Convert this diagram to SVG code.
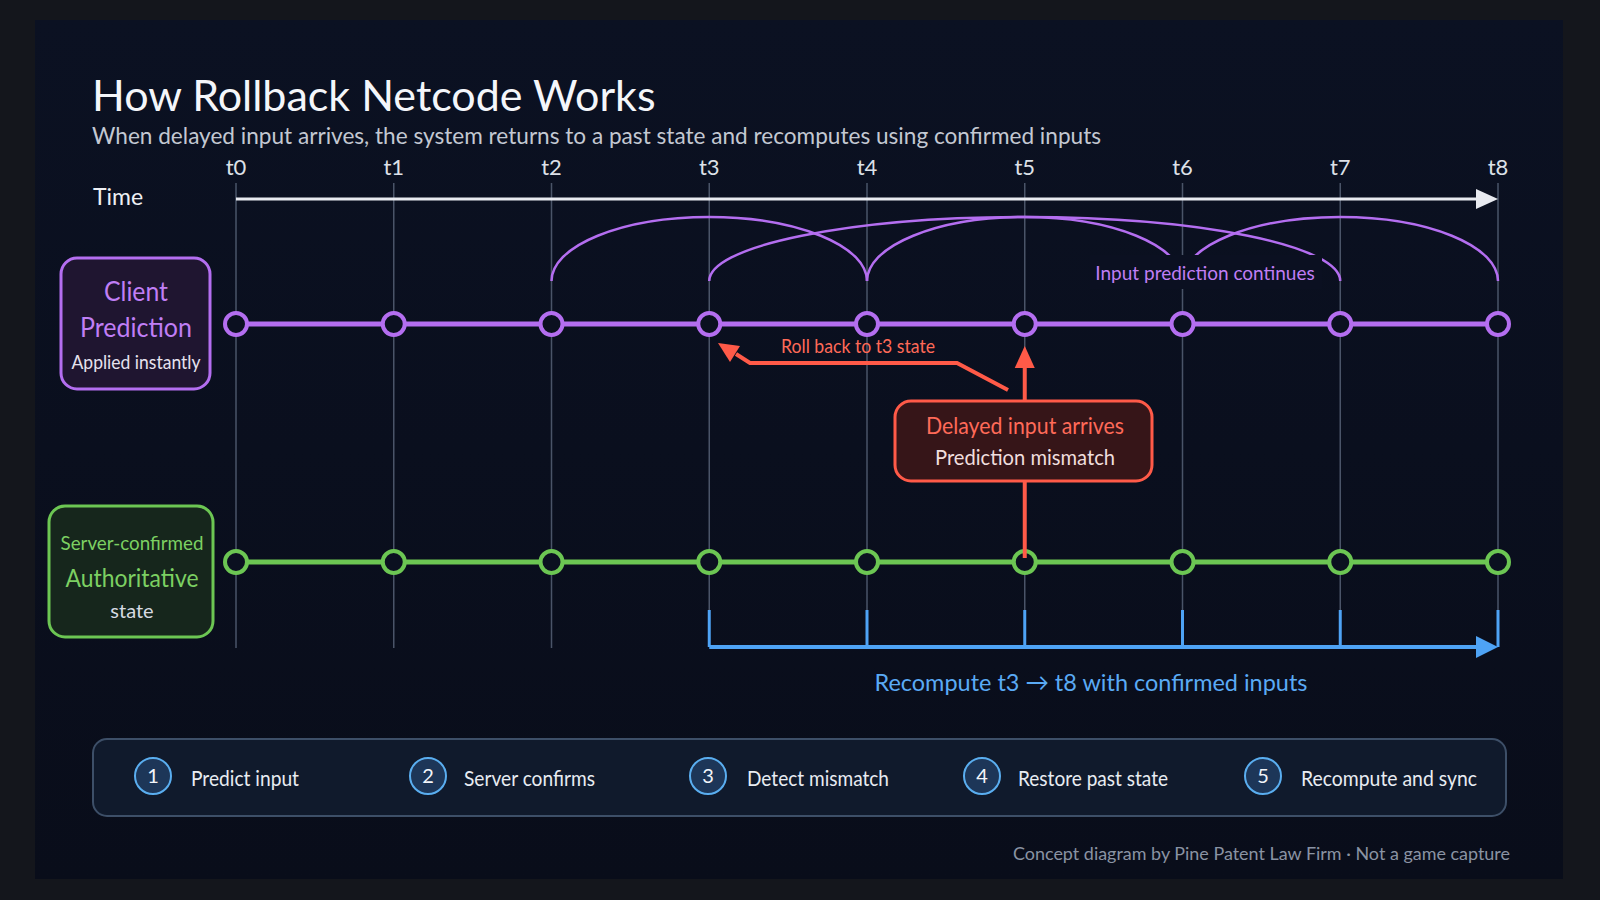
<svg xmlns="http://www.w3.org/2000/svg" width="1600" height="900" viewBox="0 0 1600 900">
  <defs>
    <linearGradient id="panelGrad" x1="0" y1="0" x2="0" y2="1">
      <stop offset="0" stop-color="#0b1122"/>
      <stop offset="1" stop-color="#090d1a"/>
    </linearGradient>
    <style>
      text { font-family: Lato, "Noto Sans", "Liberation Sans", sans-serif; }
      .grid { stroke: #4a5468; stroke-width: 1.5; }
      .tlabel { fill: #dde1e8; font-size: 22px; text-anchor: middle; }
      .pnode { fill: #0b1020; stroke: #b46ef0; stroke-width: 4; }
      .gnode { fill: #0b1020; stroke: #6cc653; stroke-width: 4; }
      .arc { fill: none; stroke: #b46ef0; stroke-width: 2.5; }
      .red { stroke: #ff5a48; fill: none; stroke-width: 4; }
      .redfill { fill: #ff5a48; }
      .blue { stroke: #4ea3f5; fill: none; }
      .stepc { fill: #1d3658; stroke: #5aaef0; stroke-width: 2; }
      .stepn { fill: #f2f5fa; font-size: 20px; text-anchor: middle; }
      .stepl { fill: #e8ecf2; font-size: 21px; }
    </style>
  </defs>

  <rect x="0" y="0" width="1600" height="900" fill="#14161c"/>
  <rect x="35" y="20" width="1528" height="859" fill="url(#panelGrad)"/>

  <g id="title">
    <text x="92" y="111" font-size="43" fill="#f4f6fa">How Rollback Netcode Works</text>
    <text x="92" y="144" font-size="22.6" fill="#c3c8d2">When delayed input arrives, the system returns to a past state and recomputes using confirmed inputs</text>
  </g>

  <g id="time-axis">
    <text x="93" y="205" font-size="23" fill="#eef0f4">Time</text>
    <text class="tlabel" x="236" y="175">t0</text>
    <text class="tlabel" x="393.75" y="175">t1</text>
    <text class="tlabel" x="551.5" y="175">t2</text>
    <text class="tlabel" x="709.25" y="175">t3</text>
    <text class="tlabel" x="867" y="175">t4</text>
    <text class="tlabel" x="1024.75" y="175">t5</text>
    <text class="tlabel" x="1182.5" y="175">t6</text>
    <text class="tlabel" x="1340.25" y="175">t7</text>
    <text class="tlabel" x="1498" y="175">t8</text>
  </g>

  <g id="grid">
    <line class="grid" x1="236" y1="183" x2="236" y2="648"/>
    <line class="grid" x1="393.75" y1="183" x2="393.75" y2="648"/>
    <line class="grid" x1="551.5" y1="183" x2="551.5" y2="648"/>
    <line class="grid" x1="709.25" y1="183" x2="709.25" y2="610"/>
    <line class="grid" x1="867" y1="183" x2="867" y2="610"/>
    <line class="grid" x1="1024.75" y1="183" x2="1024.75" y2="610"/>
    <line class="grid" x1="1182.5" y1="183" x2="1182.5" y2="610"/>
    <line class="grid" x1="1340.25" y1="183" x2="1340.25" y2="610"/>
    <line class="grid" x1="1498" y1="183" x2="1498" y2="610"/>
  </g>

  <g id="connectors">
    <line x1="236" y1="199" x2="1480" y2="199" stroke="#e8eaf0" stroke-width="3"/>
    <polygon points="1476,189 1498,199 1476,209" fill="#e8eaf0"/>

    <path class="arc" d="M551.5,281 A157.75,64 0 0 1 867,281"/>
    <path class="arc" d="M709.25,281 A315.5,64 0 0 1 1340.25,281"/>
    <path class="arc" d="M867,281 A157.75,64 0 0 1 1182.5,281"/>
    <path class="arc" d="M1182.5,281 A157.75,64 0 0 1 1498,281"/>

    <line x1="236" y1="324" x2="1498" y2="324" stroke="#b46ef0" stroke-width="5"/>
    <line x1="236" y1="562" x2="1498" y2="562" stroke="#6cc653" stroke-width="5"/>

    <polyline class="red" points="1008,390 957,363 750,363 736,354"/>
    <polygon class="redfill" points="718,343 740,346 730,362"/>
    <line class="red" x1="1024.75" y1="401" x2="1024.75" y2="365"/>
    <polygon class="redfill" points="1024.75,346 1014.75,368 1034.75,368"/>

    <line class="blue" stroke-width="4" x1="709.25" y1="647" x2="1478" y2="647"/>
    <polygon points="1476,636 1498,647 1476,658" fill="#4ea3f5"/>
    <line class="blue" stroke-width="3" x1="709.25" y1="610" x2="709.25" y2="647"/>
    <line class="blue" stroke-width="3" x1="867" y1="610" x2="867" y2="647"/>
    <line class="blue" stroke-width="3" x1="1024.75" y1="610" x2="1024.75" y2="647"/>
    <line class="blue" stroke-width="3" x1="1182.5" y1="610" x2="1182.5" y2="647"/>
    <line class="blue" stroke-width="3" x1="1340.25" y1="610" x2="1340.25" y2="647"/>
    <line class="blue" stroke-width="3" x1="1498" y1="610" x2="1498" y2="647"/>
  </g>

  <g id="prediction-label">
    <rect x="1090" y="255" width="232" height="34" fill="#0b1021"/>
    <text x="1205" y="280" font-size="19" fill="#c07ef5" text-anchor="middle">Input prediction continues</text>
  </g>

  <g id="client-nodes">
    <circle class="pnode" cx="236" cy="324" r="11"/>
    <circle class="pnode" cx="393.75" cy="324" r="11"/>
    <circle class="pnode" cx="551.5" cy="324" r="11"/>
    <circle class="pnode" cx="709.25" cy="324" r="11"/>
    <circle class="pnode" cx="867" cy="324" r="11"/>
    <circle class="pnode" cx="1024.75" cy="324" r="11"/>
    <circle class="pnode" cx="1182.5" cy="324" r="11"/>
    <circle class="pnode" cx="1340.25" cy="324" r="11"/>
    <circle class="pnode" cx="1498" cy="324" r="11"/>
  </g>

  <g id="server-nodes">
    <circle class="gnode" cx="236" cy="562" r="11"/>
    <circle class="gnode" cx="393.75" cy="562" r="11"/>
    <circle class="gnode" cx="551.5" cy="562" r="11"/>
    <circle class="gnode" cx="709.25" cy="562" r="11"/>
    <circle class="gnode" cx="867" cy="562" r="11"/>
    <circle class="gnode" cx="1024.75" cy="562" r="11"/>
    <circle class="gnode" cx="1182.5" cy="562" r="11"/>
    <circle class="gnode" cx="1340.25" cy="562" r="11"/>
    <circle class="gnode" cx="1498" cy="562" r="11"/>
  </g>

  <g id="delay-link">
    <line class="red" stroke-width="3" x1="1024.75" y1="481" x2="1024.75" y2="558"/>
  </g>

  <g id="client-box">
    <rect x="61" y="258" width="149" height="131" rx="16" fill="#1f1530" stroke="#b46ef0" stroke-width="3"/>
    <text x="136" y="301" font-size="26" fill="#c07ef5" text-anchor="middle" textLength="64" lengthAdjust="spacingAndGlyphs">Client</text>
    <text x="136" y="337" font-size="26" fill="#c07ef5" text-anchor="middle" textLength="112" lengthAdjust="spacingAndGlyphs">Prediction</text>
    <text x="136" y="369" font-size="19" fill="#e6e2ee" text-anchor="middle" textLength="129" lengthAdjust="spacingAndGlyphs">Applied instantly</text>
  </g>

  <g id="server-box">
    <rect x="49" y="506" width="164" height="131" rx="16" fill="#16261c" stroke="#6cc653" stroke-width="3"/>
    <text x="132" y="550" font-size="20" fill="#7cd062" text-anchor="middle" textLength="143" lengthAdjust="spacingAndGlyphs">Server-confirmed</text>
    <text x="132" y="587" font-size="25" fill="#7cd062" text-anchor="middle" textLength="133" lengthAdjust="spacingAndGlyphs">Authoritative</text>
    <text x="132" y="618" font-size="20" fill="#d6dbe2" text-anchor="middle">state</text>
  </g>

  <g id="delay-box">
    <rect x="895" y="401" width="257" height="80" rx="16" fill="#361518" stroke="#ff5a48" stroke-width="3"/>
    <text x="1025" y="434" font-size="24" fill="#ff6a58" text-anchor="middle" textLength="198" lengthAdjust="spacingAndGlyphs">Delayed input arrives</text>
    <text x="1025" y="465" font-size="21" fill="#f0dede" text-anchor="middle" textLength="180" lengthAdjust="spacingAndGlyphs">Prediction mismatch</text>
  </g>

  <g id="rollback-label">
    <text x="858" y="353" font-size="19" fill="#ff6a58" text-anchor="middle" textLength="154" lengthAdjust="spacingAndGlyphs">Roll back to t3 state</text>
  </g>

  <g id="recompute-label">
    <text x="1091" y="691" font-size="24" fill="#5aaaf5" text-anchor="middle" textLength="433" lengthAdjust="spacingAndGlyphs">Recompute t3 → t8 with confirmed inputs</text>
  </g>

  <g id="steps">
    <rect x="93" y="739" width="1413" height="77" rx="14" fill="#101a2c" stroke="#3d4f68" stroke-width="2"/>
    <g id="step1">
      <circle class="stepc" cx="153" cy="776" r="18"/>
      <text class="stepn" x="153" y="783">1</text>
      <text class="stepl" x="191" y="786" textLength="108" lengthAdjust="spacingAndGlyphs">Predict input</text>
    </g>
    <g id="step2">
      <circle class="stepc" cx="428" cy="776" r="18"/>
      <text class="stepn" x="428" y="783">2</text>
      <text class="stepl" x="464" y="786" textLength="131" lengthAdjust="spacingAndGlyphs">Server confirms</text>
    </g>
    <g id="step3">
      <circle class="stepc" cx="708" cy="776" r="18"/>
      <text class="stepn" x="708" y="783">3</text>
      <text class="stepl" x="747" y="786" textLength="142" lengthAdjust="spacingAndGlyphs">Detect mismatch</text>
    </g>
    <g id="step4">
      <circle class="stepc" cx="982" cy="776" r="18"/>
      <text class="stepn" x="982" y="783">4</text>
      <text class="stepl" x="1018" y="786" textLength="150" lengthAdjust="spacingAndGlyphs">Restore past state</text>
    </g>
    <g id="step5">
      <circle class="stepc" cx="1263" cy="776" r="18"/>
      <text class="stepn" x="1263" y="783">5</text>
      <text class="stepl" x="1301" y="786" textLength="176" lengthAdjust="spacingAndGlyphs">Recompute and sync</text>
    </g>
  </g>

  <g id="footer">
    <text x="1510" y="860" font-size="17.5" fill="#8a93a3" text-anchor="end" textLength="497" lengthAdjust="spacingAndGlyphs">Concept diagram by Pine Patent Law Firm · Not a game capture</text>
  </g>
</svg>
